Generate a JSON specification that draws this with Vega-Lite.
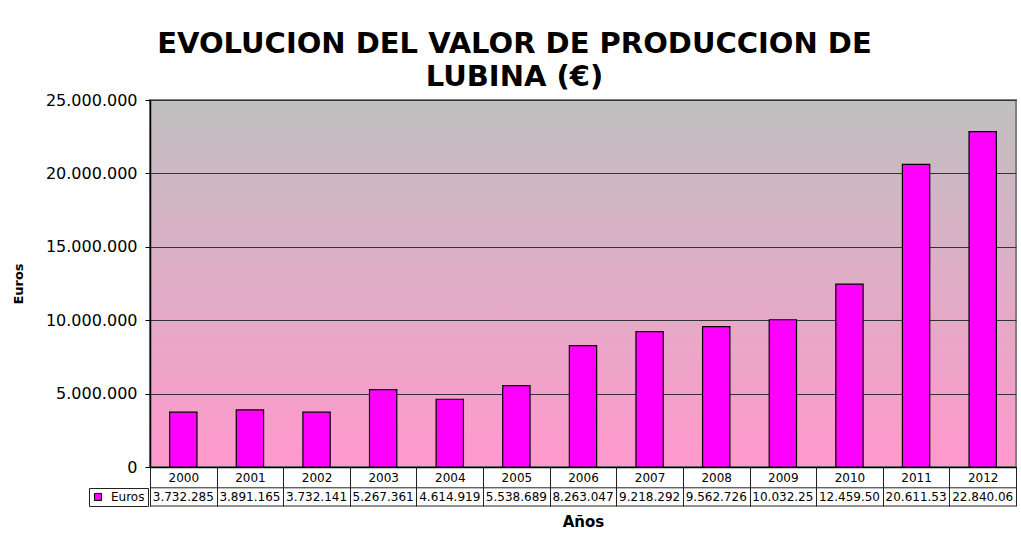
{
  "$schema": "https://vega.github.io/schema/vega-lite/v6.json",
  "width": 866,
  "height": 367,
  "autosize": "none",
  "padding": {"left": 150, "top": 100, "right": 5, "bottom": 66},
  "background": "white",
  "title": {
    "text": ["EVOLUCION DEL VALOR DE PRODUCCION DE", "LUBINA (€)"],
    "anchor": "middle",
    "frame": "bounds",
    "font": "DejaVu Sans",
    "fontSize": 29,
    "fontWeight": "bold",
    "lineHeight": 33,
    "color": "black",
    "offset": 0
  },
  "view": {
    "fill": {
      "gradient": "linear",
      "x1": 0, "y1": 0, "x2": 0, "y2": 1,
      "stops": [
        {"offset": 0, "color": "#C0C0C0"},
        {"offset": 1, "color": "#FF99CC"}
      ]
    },
    "stroke": "#808080",
    "strokeWidth": 2
  },
  "datasets": {
    "lubina": [
      {"anio": "2000", "euros": 3732285},
      {"anio": "2001", "euros": 3891165},
      {"anio": "2002", "euros": 3732141},
      {"anio": "2003", "euros": 5267361},
      {"anio": "2004", "euros": 4614919},
      {"anio": "2005", "euros": 5538689},
      {"anio": "2006", "euros": 8263047},
      {"anio": "2007", "euros": 9218292},
      {"anio": "2008", "euros": 9562726},
      {"anio": "2009", "euros": 10032250},
      {"anio": "2010", "euros": 12459500},
      {"anio": "2011", "euros": 20611534},
      {"anio": "2012", "euros": 22840060}
    ]
  },
  "layer": [
    {
      "data": {"name": "lubina"},
      "mark": {"type": "bar", "width": {"band": 0.41}, "stroke": "black", "strokeWidth": 1.2},
      "encoding": {
        "x": {
          "field": "anio",
          "type": "nominal",
          "scale": {"paddingInner": 0, "paddingOuter": 0},
          "axis": {
            "title": "Años",
            "titleFont": "DejaVu Sans",
            "titleFontSize": 15,
            "titleFontWeight": "bold",
            "titleColor": "black",
            "titlePadding": 8,
            "labelAngle": 0,
            "labelFont": "DejaVu Sans",
            "labelFontSize": 12,
            "labelColor": "black",
            "labelPadding": -34,
            "labelBaseline": "top",
            "tickBand": "extent",
            "tickSize": 39,
            "tickColor": "#222",
            "domainColor": "black",
            "domainWidth": 1.5,
            "grid": false
          }
        },
        "y": {
          "field": "euros",
          "type": "quantitative",
          "scale": {"domain": [0, 25000000], "nice": false, "zero": true},
          "axis": {
            "title": "Euros",
            "titleFont": "DejaVu Sans",
            "titleFontSize": 13,
            "titleFontWeight": "bold",
            "titleColor": "black",
            "titlePadding": 20,
            "values": [0, 5000000, 10000000, 15000000, 20000000, 25000000],
            "format": ",d",
            "labelFont": "DejaVu Sans",
            "labelFontSize": 16,
            "labelColor": "black",
            "labelPadding": 8,
            "tickSize": 5,
            "tickColor": "black",
            "domainColor": "black",
            "domainWidth": 1.5,
            "grid": true,
            "gridColor": "#333333",
            "gridWidth": 1
          }
        },
        "color": {
          "datum": "Euros",
          "type": "nominal",
          "scale": {"range": ["#FF00FF"]},
          "legend": {
            "title": null,
            "orient": "none",
            "legendX": -61,
            "legendY": 388,
            "symbolType": "square",
            "symbolSize": 50,
            "symbolStrokeColor": "black",
            "symbolStrokeWidth": 1,
            "labelFont": "DejaVu Sans",
            "labelFontSize": 12,
            "labelColor": "black",
            "labelOffset": 7,
            "strokeColor": "#222",
            "fillColor": "white",
            "padding": 3
          }
        }
      }
    },
    {
      "data": {"name": "lubina"},
      "mark": {"type": "text", "font": "DejaVu Sans", "fontSize": 12, "color": "black", "limit": 65, "ellipsis": "\u200b", "baseline": "middle"},
      "encoding": {
        "x": {"field": "anio", "type": "nominal"},
        "y": {"datum": -2064000, "type": "quantitative"},
        "text": {"field": "euros", "type": "quantitative", "format": ",d"}
      }
    },
    {
      "data": {"values": [{}]},
      "mark": {"type": "rule", "color": "#222", "strokeWidth": 1},
      "encoding": {"y": {"datum": -1417000, "type": "quantitative"}}
    },
    {
      "data": {"values": [{}]},
      "mark": {"type": "rule", "color": "#222", "strokeWidth": 1},
      "encoding": {"y": {"datum": -2657000, "type": "quantitative"}}
    }
  ],
  "config": {
    "locale": {
      "number": {"decimal": ",", "thousands": ".", "grouping": [3], "currency": ["", " €"]}
    }
  }
}
